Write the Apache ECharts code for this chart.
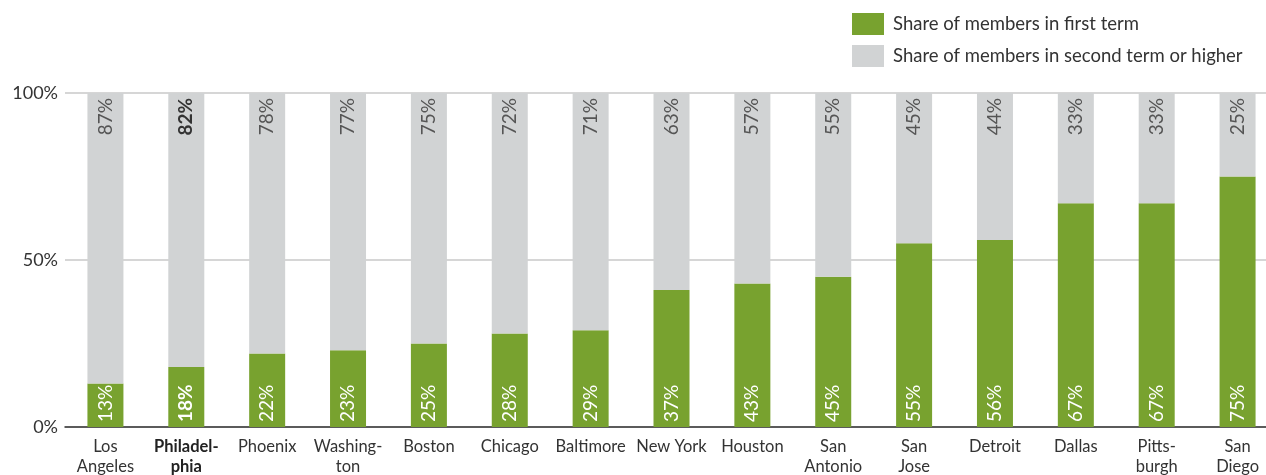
<!DOCTYPE html>
<html>
<head>
<meta charset="utf-8">
<script src="https://cdn.jsdelivr.net/npm/echarts@6/dist/echarts.min.js"></script>
<style>
  html, body { margin: 0; padding: 0; background: #fff; }
  #chart { width: 1266px; height: 475px; }
</style>
</head>
<body>
<div id="chart"></div>
<script>
const GREEN = '#78a22f';
const GRAY = '#d1d3d4';
const FONT = 'Lato, "Open Sans", sans-serif';

const cities = ['Los\nAngeles', 'Philadel-\nphia', 'Phoenix', 'Washing-\nton', 'Boston', 'Chicago',
  'Baltimore', 'New York', 'Houston', 'San\nAntonio', 'San\nJose', 'Detroit', 'Dallas',
  'Pitts-\nburgh', 'San\nDiego'];
// bar heights as drawn
const firstTerm = [13, 18, 22, 23, 25, 28, 29, 41, 43, 45, 55, 56, 67, 67, 75];
const secondTerm = [87, 82, 78, 77, 75, 72, 71, 59, 57, 55, 45, 44, 33, 33, 25];
// printed labels
const firstLabels = ['13%', '18%', '22%', '23%', '25%', '28%', '29%', '37%', '43%', '45%', '55%', '56%', '67%', '67%', '75%'];
const secondLabels = ['87%', '82%', '78%', '77%', '75%', '72%', '71%', '63%', '57%', '55%', '45%', '44%', '33%', '33%', '25%'];
const HIGHLIGHT = 1;

const chart = echarts.init(document.getElementById('chart'));

chart.setOption({
  animation: false,
  textStyle: { fontFamily: FONT },
  legend: {
    orient: 'vertical',
    left: 852,
    top: 13,
    padding: 0,
    itemWidth: 32,
    itemHeight: 22,
    itemGap: 10,
    icon: 'rect',
    textStyle: { fontSize: 18.5, color: '#333', fontFamily: FONT, padding: [0, 0, 0, 4] },
    data: ['Share of members in first term', 'Share of members in second term or higher']
  },
  grid: { left: 65, width: 1213, top: 93, bottom: 48, outerBoundsMode: 'none', containLabel: false },
  xAxis: {
    type: 'category',
    data: cities,
    axisLine: { lineStyle: { color: '#333', width: 1.5 } },
    axisTick: { show: false },
    axisLabel: {
      interval: 0,
      color: '#333',
      fontSize: 16.5,
      lineHeight: 20,
      margin: 10,
      fontFamily: FONT,
      formatter: (v, i) => i === HIGHLIGHT ? `{b|${v}}` : v,
      rich: { b: { fontWeight: 'bold', fontSize: 16.5, lineHeight: 20, color: '#222', fontFamily: FONT } }
    }
  },
  yAxis: {
    type: 'value',
    min: 0,
    max: 100,
    interval: 50,
    axisLine: { show: false },
    axisTick: { show: false },
    splitLine: { lineStyle: { color: '#c8c8c8', width: 1.5 } },
    axisLabel: { formatter: '{value}%', color: '#333', fontSize: 18, margin: 7, fontFamily: FONT }
  },
  series: [
    {
      name: 'Share of members in first term',
      type: 'bar',
      stack: 'total',
      barWidth: 36,
      itemStyle: { color: GREEN },
      data: firstTerm.map((v, i) => ({
        value: v,
        label: { formatter: firstLabels[i], fontWeight: i === HIGHLIGHT ? 'bold' : 'normal' }
      })),
      label: {
        show: true,
        position: 'insideBottom',
        rotate: 90,
        align: 'left',
        verticalAlign: 'middle',
        distance: 5,
        color: '#fff',
        fontSize: 19,
        fontFamily: FONT
      }
    },
    {
      name: 'Share of members in second term or higher',
      type: 'bar',
      stack: 'total',
      barWidth: 36,
      itemStyle: { color: GRAY },
      data: secondTerm.map((v, i) => ({
        value: v,
        label: { formatter: secondLabels[i], fontWeight: i === HIGHLIGHT ? 'bold' : 'normal', color: i === HIGHLIGHT ? '#333' : '#555' }
      })),
      label: {
        show: true,
        position: 'insideTop',
        rotate: 90,
        align: 'right',
        verticalAlign: 'middle',
        distance: 5,
        color: '#555',
        fontSize: 19,
        fontFamily: FONT
      }
    }
  ]
});
</script>
</body>
</html>
